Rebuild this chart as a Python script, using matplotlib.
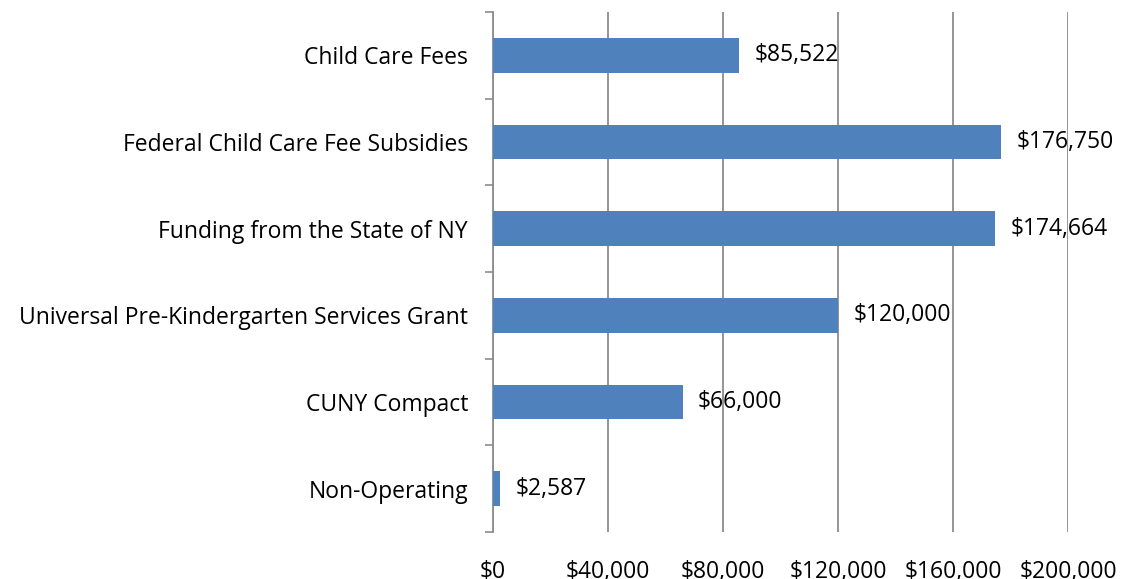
import matplotlib.pyplot as plt
from matplotlib.ticker import FuncFormatter
import numpy as np

# Revenue sources (top to bottom as shown)
categories = ["Child Care Fees", "Federal Child Care Fee Subsidies",
              "Funding from the State of NY",
              "Universal Pre-Kindergarten Services Grant",
              "CUNY Compact", "Non-Operating"]
values = [85522, 176750, 174664, 120000, 66000, 2587]
xticks = [0, 40000, 80000, 120000, 160000, 200000]

plt.rcParams['font.family'] = ['Open Sans', 'DejaVu Sans']
FS = 16.5

fig = plt.figure(figsize=(11.21, 5.79), dpi=100)
ax = fig.add_axes([0.4398, 0.0812, 0.5129, 0.8978])

y = np.arange(len(categories))[::-1]
ax.barh(y, values, height=0.4, color="#4F81BD", zorder=3)

for yi, v in zip(y, values):
    ax.annotate("${:,}".format(v), (v, yi), xytext=(11, 0),
                textcoords="offset points", va="center", ha="left",
                fontsize=FS, zorder=4)

ax.set_xlim(0, 200000)
ax.set_ylim(-0.5, len(categories) - 0.5)
ax.set_xticks(xticks)
ax.xaxis.set_major_formatter(FuncFormatter(lambda v, p: "${:,.0f}".format(v)))
ax.xaxis.grid(True, color="#8c8c8c", linewidth=1.3, zorder=1)
ax.tick_params(axis="x", length=0, pad=20, labelsize=FS)

# category labels between boundary ticks
ax.set_yticks(np.arange(-0.5, len(categories), 1.0))
ax.set_yticklabels([])
ax.set_yticks(y, minor=True)
ax.set_yticklabels(categories, minor=True)
ax.tick_params(axis="y", which="major", length=6, width=1.2, color="#8c8c8c", direction="out")
ax.tick_params(axis="y", which="minor", length=0, pad=18, labelsize=FS)

for s in ["top", "right", "bottom"]:
    ax.spines[s].set_visible(False)
ax.spines["left"].set_color("#8c8c8c")
ax.spines["left"].set_linewidth(1.3)

fig.savefig("out.png", dpi=100)
